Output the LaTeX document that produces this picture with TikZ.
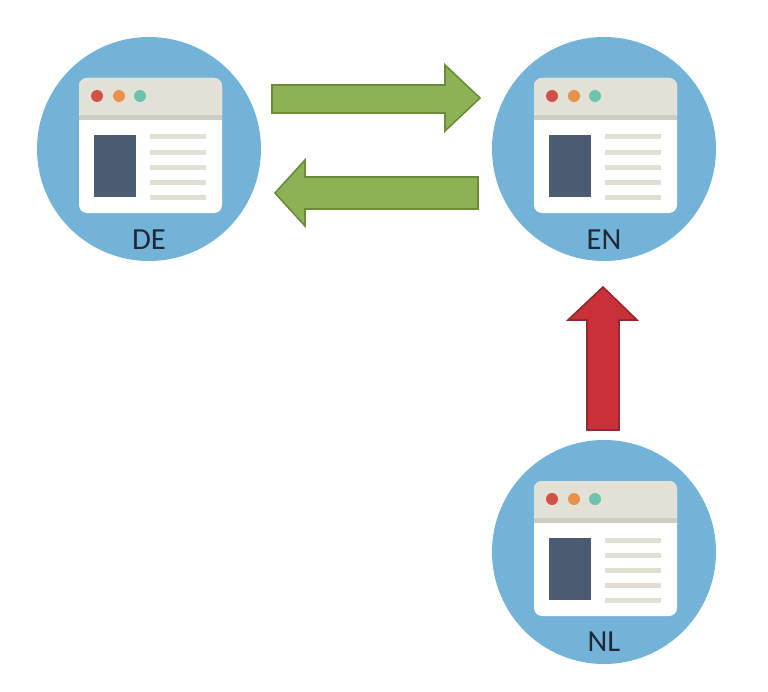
\documentclass[tikz,border=0pt]{standalone}
\usepackage{fontspec}
\setmainfont{Carlito}
\usetikzlibrary{positioning}
\definecolor{disc}{HTML}{74B3D8}
\definecolor{winbar}{HTML}{E3E1D6}
\definecolor{winedge}{HTML}{CFCDC2}
\definecolor{pane}{HTML}{4B5B72}
\definecolor{txtline}{HTML}{E1DFD4}
\definecolor{dotred}{HTML}{D3504A}
\definecolor{dotorange}{HTML}{E8914A}
\definecolor{dotteal}{HTML}{6CC4AE}
\definecolor{arrgreen}{HTML}{8DB255}
\definecolor{arrgreenedge}{HTML}{6A8C38}
\definecolor{arrred}{HTML}{C9303A}
\definecolor{arrrededge}{HTML}{8E2A30}
\definecolor{tagink}{HTML}{1E2A38}

\tikzset{
  site/.pic={
    \fill[disc] (0,0) circle (112);
    \fill[white, rounded corners=6] (-70,-71) rectangle (73,64);
    \fill[winbar, rounded corners=6] (-70,-71) rectangle (73,-29);
    \fill[winedge] (-70,-34) rectangle (73,-29);
    \fill[dotred] (-52,-53) circle (6);
    \fill[dotorange] (-30,-53) circle (6);
    \fill[dotteal] (-9,-53) circle (6);
    \fill[pane] (-55,-14) rectangle (-13,48);
    \foreach \y in {-12,3,18,33,48}
      \fill[txtline] (1,\y-2.5) rectangle (57,\y+2.5);
  },
  tag/.style={font=\fontsize{23}{27}\selectfont, text=tagink},
  blockgreen/.style={fill=arrgreen, draw=arrgreenedge, line width=1.2},
  blockred/.style={fill=arrred, draw=arrrededge, line width=1.2}
}

\begin{document}
\begin{tikzpicture}[x=0.75pt, y=-0.75pt]
\useasboundingbox (0,0) rectangle (768,692);
\fill[white] (0,0) rectangle (768,692);

\coordinate (DE) at (149,149);
\coordinate (EN) at (604,149);
\coordinate (NL) at (604,552);

\pic at (DE) {site};
\pic at (EN) {site};
\pic at (NL) {site};

\node[tag] (DElabel) at (149,240) {DE};
\node[tag] (ENlabel) at (604,240) {EN};
\node[tag] (NLlabel) at (604,642) {NL};

% DE -> EN
\draw[blockgreen] (272,85) -- (445,85) -- (445,65) -- (480,98) -- (445,131)
  -- (445,113) -- (272,113) -- cycle;
% EN -> DE
\draw[blockgreen] (478,177) -- (305,177) -- (305,160) -- (275,193) -- (305,226)
  -- (305,209) -- (478,209) -- cycle;
% NL -> EN
\draw[blockred] (587,430) -- (587,320) -- (568,320) -- (603,287) -- (637,320)
  -- (619,320) -- (619,430) -- cycle;
\end{tikzpicture}
\end{document}
